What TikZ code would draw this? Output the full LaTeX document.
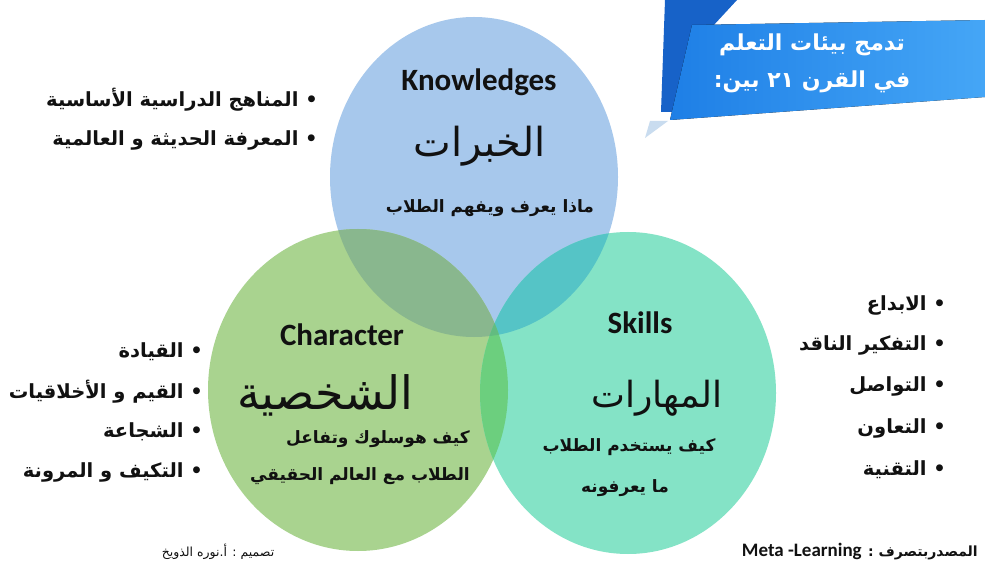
\documentclass[tikz,border=0pt]{standalone}
\usepackage{fontspec}
\TeXXeTstate=1
\newfontfamily\arf[Script=Arabic]{DejaVu Sans}
\newfontfamily\enf{Carlito}
\newcommand{\artxt}[1]{{\arf\beginR #1\endR}}
\definecolor{cblue}{HTML}{A7C8EC}
\definecolor{cteal}{HTML}{84E3C6}
\definecolor{cgreen}{HTML}{A9D38F}
\definecolor{cbg}{HTML}{89B78E}
\definecolor{cbt}{HTML}{55C4C6}
\definecolor{cgt}{HTML}{6CCF7E}
\definecolor{cbgt}{HTML}{62BC80}
\definecolor{bandark}{HTML}{1762C8}
\definecolor{banl}{HTML}{1E7FE6}
\definecolor{banr}{HTML}{45A6F6}
\definecolor{banpale}{HTML}{C9DCEF}
\definecolor{ink}{HTML}{111111}
\def\ellB{(474,177) ellipse [x radius=144,y radius=160]}
\def\ellG{(358,390) ellipse [x radius=150,y radius=161]}
\def\ellT{(628,393) ellipse [x radius=148,y radius=161]}
\begin{document}
\begin{tikzpicture}[x=1pt,y=-1pt,
  entitle/.style={font=\enf\bfseries\fontsize{31}{31}\selectfont,text=ink,inner sep=0pt},
  bigar/.style={font=\arf\fontsize{40}{44}\selectfont,text=ink,inner sep=0pt},
  subar/.style={font=\arf\bfseries\fontsize{17}{20}\selectfont,text=ink,inner sep=0pt},
  listitem/.style={font=\arf\bfseries\fontsize{19.5}{22}\selectfont,text=ink,inner sep=0pt,anchor=east},
  titletxt/.style={font=\arf\bfseries\fontsize{22}{24}\selectfont,text=white,inner sep=0pt},
  foot/.style={font=\arf\fontsize{12.5}{14}\selectfont,text=ink,inner sep=0pt}]
\useasboundingbox (0,0) rectangle (985,569);
\fill[white] (0,0) rectangle (985,569);
% banner
\fill[bandark] (665,0) -- (737,0) -- (700,40) -- (690,112) -- (661,112) -- cycle;
\fill[left color=banl,right color=banr] (692,25) -- (985,20) -- (985,97) -- (670,120) -- cycle;
\fill[banpale] (650,121) -- (668,121) -- (645,138) -- cycle;
\node[titletxt] (t1) at (812,45) {\artxt{تدمج بيئات التعلم}};
\node[titletxt] (t2) at (812,82) {\artxt{في القرن ٢١ بين:}};
% circles
\fill[cblue] \ellB;
\fill[cgreen] \ellG;
\fill[cteal] \ellT;
\begin{scope}
  \clip \ellB;
  \fill[cbg] \ellG;
  \fill[cbt] \ellT;
\end{scope}
\begin{scope}
  \clip \ellG;
  \fill[cgt] \ellT;
  \clip \ellB;
  \fill[cbgt] \ellT;
\end{scope}
% knowledge
\node[entitle] (kn) at (479,82) {Knowledges};
\node[bigar] (kna) at (480,146) {\artxt{الخبرات}};
\node[subar] (kns) at (490,208) {\artxt{ماذا يعرف ويفهم الطلاب}};
% character
\node[entitle] (ch) at (342,335) {Character};
\node[bigar,font=\arf\fontsize{46}{50}\selectfont] (cha) at (325,395) {\artxt{الشخصية}};
\node[subar,anchor=east] (chs1) at (470,439) {\artxt{كيف هوسلوك وتفاعل}};
\node[subar,anchor=east] (chs2) at (470,476) {\artxt{الطلاب مع العالم الحقيقي}};
% skills
\node[entitle] (sk) at (640,323) {Skills};
\node[bigar,font=\arf\fontsize{36}{40}\selectfont] (ska) at (657,398) {\artxt{المهارات}};
\node[subar] (sks1) at (629,447) {\artxt{كيف يستخدم الطلاب}};
\node[subar] (sks2) at (625,488) {\artxt{ما يعرفونه}};
% lists
\node[listitem] (l1) at (318,100) {\artxt{• المناهج الدراسية الأساسية}};
\node[listitem] (l2) at (318,140) {\artxt{• المعرفة الحديثة و العالمية}};
\node[listitem] (c1) at (203,352) {\artxt{• القيادة}};
\node[listitem] (c2) at (203,392) {\artxt{• القيم و الأخلاقيات}};
\node[listitem] (c3) at (203,432) {\artxt{• الشجاعة}};
\node[listitem] (c4) at (203,472) {\artxt{• التكيف و المرونة}};
\node[listitem] (s1) at (946,305) {\artxt{• الابداع}};
\node[listitem] (s2) at (946,345) {\artxt{• التفكير الناقد}};
\node[listitem] (s3) at (946,386) {\artxt{• التواصل}};
\node[listitem] (s4) at (946,428) {\artxt{• التعاون}};
\node[listitem] (s5) at (946,470) {\artxt{• التقنية}};
% footer
\node[foot] (f1) at (218,552) {\artxt{تصميم : أ.نوره الذويخ}};
\node[foot,font=\arf\bfseries\fontsize{14}{16}\selectfont,anchor=east] (f2) at (978,552) {\arf\beginR المصدربتصرف : \beginL{\enf\bfseries\fontsize{19}{20}\selectfont Meta -Learning}\endL\endR};
\end{tikzpicture}
\end{document}
